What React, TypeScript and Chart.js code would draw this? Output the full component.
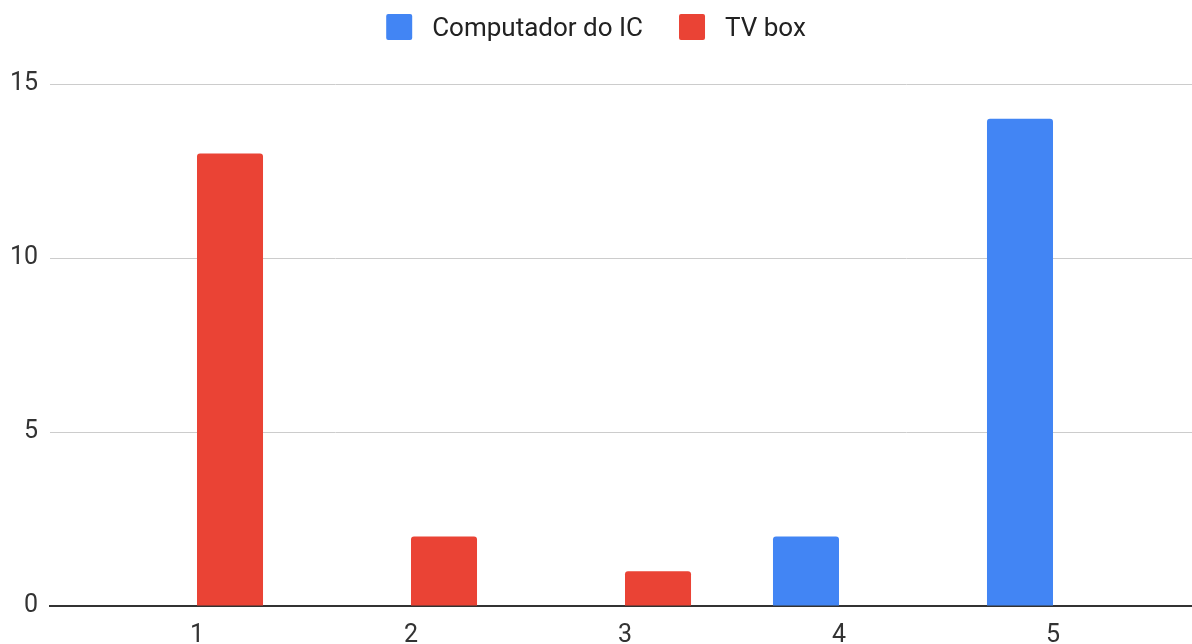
import React, { useEffect, useRef } from 'react';
import { Chart, registerables } from 'chart.js';

Chart.register(...registerables);

const categories = [1, 2, 3, 4, 5];
const computadorValues: (number | null)[] = [null, null, null, 2, 14];
const tvBoxValues: (number | null)[] = [13, 2, 1, null, null];
const yTickValues = [0, 5, 10, 15];
const seriesNames = ['Computador do IC', 'TV box'];
const seriesColors = ['#4285F4', '#EA4335'];

const FONT = 'Roboto, "Liberation Sans", Arial, sans-serif';
const FONT_SIZE = 25;
const LEGEND_FONT_SIZE = 26;

const legendPlugin = {
  id: 'topLegend',
  afterDraw(chart: any) {
    const ctx = chart.ctx as CanvasRenderingContext2D;
    const box = 26;
    const gapBoxText = 20;
    const gapItems = 36;
    const cy = 27;
    ctx.save();
    ctx.font = `${LEGEND_FONT_SIZE}px ${FONT}`;
    const widths = seriesNames.map((n) => ctx.measureText(n).width);
    let total = 0;
    widths.forEach((w, i) => {
      total += box + gapBoxText + w + (i > 0 ? gapItems : 0);
    });
    let x = chart.width / 2 - total / 2;
    seriesNames.forEach((name, i) => {
      ctx.fillStyle = seriesColors[i];
      ctx.beginPath();
      (ctx as any).roundRect(x, cy - box / 2, box, box, 2);
      ctx.fill();
      ctx.fillStyle = '#222222';
      ctx.textBaseline = 'middle';
      ctx.textAlign = 'left';
      ctx.fillText(name, x + box + gapBoxText, cy + 2);
      x += box + gapBoxText + widths[i] + gapItems;
    });
    ctx.restore();
  },
};

export default function App() {
  const canvasRef = useRef<HTMLCanvasElement | null>(null);

  useEffect(() => {
    if (!canvasRef.current) return;
    const chart = new Chart(canvasRef.current, {
      type: 'bar',
      data: {
        datasets: [
          {
            label: seriesNames[0],
            data: categories.map((c, i) => ({ x: c, y: computadorValues[i] })) as any,
            backgroundColor: seriesColors[0],
            borderWidth: 0,
            borderRadius: { topLeft: 3, topRight: 3, bottomLeft: 0, bottomRight: 0 },
            borderSkipped: 'start',
            categoryPercentage: 0.617,
            barPercentage: 1,
          },
          {
            label: seriesNames[1],
            data: categories.map((c, i) => ({ x: c, y: tvBoxValues[i] })) as any,
            backgroundColor: seriesColors[1],
            borderWidth: 0,
            borderRadius: { topLeft: 3, topRight: 3, bottomLeft: 0, bottomRight: 0 },
            borderSkipped: 'start',
            categoryPercentage: 0.617,
            barPercentage: 1,
          },
        ],
      },
      options: {
        responsive: false,
        animation: false,
        events: [],
        layout: { padding: { top: 84, left: 0, right: 0, bottom: 0 } },
        plugins: {
          legend: { display: false },
          tooltip: { enabled: false },
        },
        scales: {
          x: {
            type: 'linear',
            min: 0.3131,
            max: 5.6495,
            offset: false,
            afterBuildTicks: (axis: any) => {
              axis.ticks = categories.map((v) => ({ value: v }));
            },
            afterFit: (axis: any) => {
              axis.height = 38;
            },
            grid: { display: false, drawTicks: false },
            border: { display: true, color: '#333333', width: 2 },
            ticks: {
              padding: 15,
              color: '#333333',
              font: { size: FONT_SIZE, family: FONT },
              maxRotation: 0,
              autoSkip: false,
              callback: (v: any) => String(v),
            },
          },
          y: {
            min: 0,
            max: 15,
            afterBuildTicks: (axis: any) => {
              axis.ticks = yTickValues.map((v) => ({ value: v }));
            },
            afterFit: (axis: any) => {
              axis.width = 50;
            },
            grid: {
              drawTicks: false,
              color: (c: any) => (c.tick && c.tick.value === 0 ? 'rgba(0,0,0,0)' : '#cccccc'),
              lineWidth: 1,
            },
            border: { display: false },
            ticks: {
              padding: 12,
              color: '#333333',
              font: { size: FONT_SIZE, family: FONT },
            },
          },
        },
      },
      plugins: [legendPlugin],
    });
    return () => chart.destroy();
  }, []);

  return (
    <div style={{ position: 'absolute', left: 0, top: 0, width: 1192, height: 644, background: '#ffffff' }}>
      <canvas ref={canvasRef} width={1192} height={644} />
    </div>
  );
}
